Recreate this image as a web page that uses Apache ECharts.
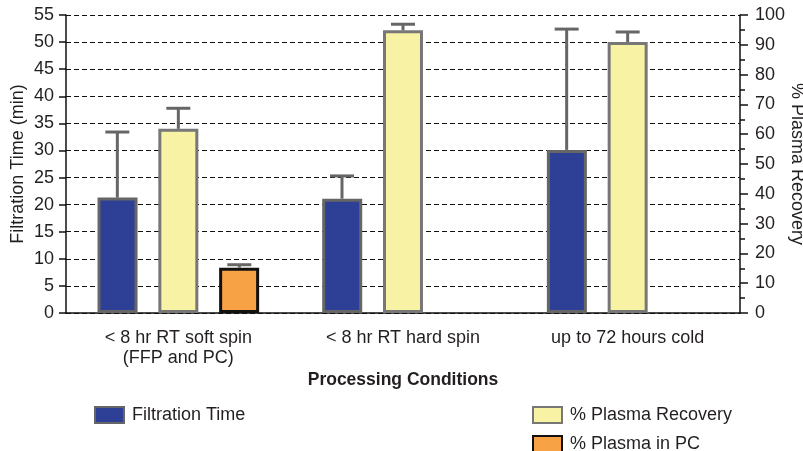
<!DOCTYPE html>
<html>
<head>
<meta charset="utf-8">
<script src="https://cdn.jsdelivr.net/npm/echarts@6/dist/echarts.min.js"></script>
<style>html,body{margin:0;padding:0;background:#fff;}#c{width:803px;height:451px;}</style>
</head>
<body>
<div id="c"></div>
<script>
var categories = ['< 8 hr RT soft spin\n(FFP and PC)', '< 8 hr RT hard spin', 'up to 72 hours cold'];
var filtrationTime = [21.3, 21.1, 30.1];
var filtrationTimeErrHigh = [33.4, 25.3, 52.4];
var plasmaRecovery = [61.8, 94.9, 90.9];
var plasmaRecoveryErrHigh = [68.7, 96.9, 94.3];
var plasmaInPC = [15.2, null, null];
var plasmaInPCErrHigh = [16.2, null, null];
var leftTicks = {min: 0, max: 55, interval: 5};
var rightTicks = {min: 0, max: 100, interval: 10};

var FONT = 'Liberation Sans';
var TXT = '#231f20';
var FS = 18;
var SLOT = 61;
function errSeries(name, vals, highs, slot, yIdx) {
  var data = [];
  for (var i = 0; i < vals.length; i++) {
    if (vals[i] != null) data.push([i, vals[i], highs[i]]);
  }
  return {
    type: 'custom', name: name + ' err', yAxisIndex: yIdx, z: 5, silent: true,
    data: data,
    renderItem: function (params, api) {
      var base = api.coord([api.value(0), api.value(1)]);
      var top = api.coord([api.value(0), api.value(2)]);
      var x = base[0] + slot * SLOT;
      var stroke = {stroke: '#666', lineWidth: 3};
      return {type: 'group', children: [
        {type: 'line', shape: {x1: x, y1: base[1], x2: x, y2: top[1]}, style: stroke},
        {type: 'line', shape: {x1: x - 12, y1: top[1], x2: x + 12, y2: top[1]}, style: stroke}
      ]};
    }
  };
}
function legendItem(name, top) {
  return {data: [name], left: name === 'Filtration Time' ? 89 : 527, top: top,
    icon: 'rect', itemWidth: 29, itemHeight: 16, selectedMode: false,
    textStyle: {fontSize: FS, color: TXT, fontFamily: FONT, padding: [0, 0, 0, 3]}};
}

var chart = echarts.init(document.getElementById('c'));
chart.setOption({
  animation: false,
  textStyle: {fontFamily: FONT, color: TXT},
  grid: {left: 66, right: 63, top: 15, bottom: 138, outerBoundsMode: 'none', containLabel: false},
  legend: [
    legendItem('Filtration Time', 401),
    legendItem('% Plasma Recovery', 401),
    legendItem('% Plasma in PC', 430)
  ],
  xAxis: {
    type: 'category', data: categories,
    name: 'Processing Conditions', nameLocation: 'middle', nameGap: 58, nameMoveOverlap: false,
    nameTextStyle: {fontSize: 17.5, fontWeight: 'bold', color: TXT, fontFamily: FONT},
    axisLine: {lineStyle: {color: '#111', width: 1.5}},
    axisTick: {alignWithLabel: true, length: 7, lineStyle: {color: '#111', width: 1.5}},
    axisLabel: {fontSize: FS, color: TXT, fontFamily: FONT, margin: 15, lineHeight: 20, interval: 0}
  },
  yAxis: [
    {type: 'value', min: leftTicks.min, max: leftTicks.max, interval: leftTicks.interval,
     name: 'Filtration Time (min)', nameLocation: 'middle', nameGap: 39, nameMoveOverlap: false,
     nameTextStyle: {fontSize: FS, color: TXT, fontFamily: FONT},
     axisLine: {show: true, lineStyle: {color: '#111', width: 1.5}},
     axisTick: {show: true, length: 7, lineStyle: {color: '#111', width: 1.5}},
     axisLabel: {fontSize: FS, color: TXT, fontFamily: FONT, margin: 12},
     splitLine: {show: true, lineStyle: {color: '#111', width: 1.2, type: [5, 3]}}},
    {type: 'value', position: 'right', min: rightTicks.min, max: rightTicks.max, interval: rightTicks.interval,
     name: '% Plasma Recovery', nameLocation: 'middle', nameGap: 48, nameRotate: -90, nameMoveOverlap: false,
     nameTextStyle: {fontSize: FS, color: TXT, fontFamily: FONT},
     axisLine: {show: true, lineStyle: {color: '#111', width: 1.5}},
     axisTick: {show: true, length: 8, lineStyle: {color: '#111', width: 1.5}},
     minorTick: {show: true, splitNumber: 2, length: 5, lineStyle: {color: '#111', width: 1.5}},
     axisLabel: {fontSize: FS, color: TXT, fontFamily: FONT, margin: 15},
     splitLine: {show: false}}
  ],
  series: [
    {type: 'bar', name: 'Filtration Time', yAxisIndex: 0, data: filtrationTime, barWidth: 40, barGap: '52%',
     itemStyle: {color: '#2e3f96', borderColor: '#666', borderWidth: 3}},
    {type: 'bar', name: '% Plasma Recovery', yAxisIndex: 1, data: plasmaRecovery, barWidth: 40, barGap: '52%',
     itemStyle: {color: '#f8f3a4', borderColor: '#777', borderWidth: 3}},
    {type: 'bar', name: '% Plasma in PC', yAxisIndex: 1, data: plasmaInPC, barWidth: 40, barGap: '52%',
     itemStyle: {color: '#f7a244', borderColor: '#111', borderWidth: 3}},
    errSeries('Filtration Time', filtrationTime, filtrationTimeErrHigh, -1, 0),
    errSeries('% Plasma Recovery', plasmaRecovery, plasmaRecoveryErrHigh, 0, 1),
    errSeries('% Plasma in PC', plasmaInPC, plasmaInPCErrHigh, 1, 1)
  ]
});
</script>
</body>
</html>
